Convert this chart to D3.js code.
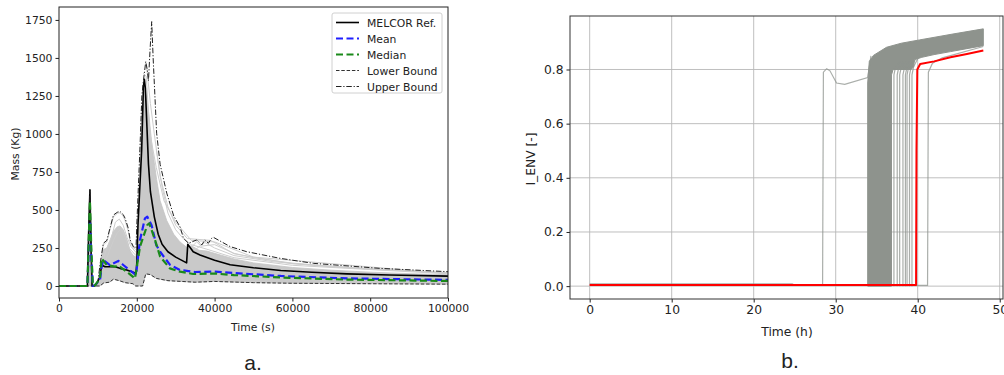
<!DOCTYPE html>
<html>
<head>
<meta charset="utf-8">
<script src="https://cdn.jsdelivr.net/npm/d3@7"></script>
<style>
  body { margin: 0; background: #fff; }
  svg { display: block; }
  text { font-family: "DejaVu Sans", sans-serif; fill: #222; }
</style>
</head>
<body>
<div id="chart"></div>
<script>
// ---------- panel a: mass vs time (s) ----------
const massTicks = [0, 250, 500, 750, 1000, 1250, 1500, 1750];
const timeTicksA = [0, 20000, 40000, 60000, 80000, 100000];

const melcorRef = [[0,0],[7300,0],[7600,330],[7950,632],[8200,300],[8500,0],[9200,0],[9800,20],[10540,61],[10970,138],[11830,127],[14400,127],[15680,116],[17400,105],[19800,83],[20000,150],[20300,400],[21250,895],[21700,1310],[21950,1360],[22200,1300],[22600,1050],[23000,800],[23500,620],[24500,455],[25500,340],[26500,275],[28000,225],[30000,190],[32800,152],[33100,275],[34500,225],[36250,204],[40000,170],[44000,140],[50000,120],[57000,102],[65000,90],[74000,80],[85000,72],[100000,65]];
const meanRun = [[0,0],[7300,0],[7650,250],[7950,460],[8300,200],[8700,0],[9250,6],[10540,40],[10970,127],[11400,171],[13100,138],[15250,165],[16530,138],[18680,94],[19800,72],[20820,303],[22100,445],[22700,456],[23800,400],[25000,270],[26000,225],[28500,140],[31100,105],[35000,92],[40000,95],[45000,85],[57000,66],[74000,50],[100000,40]];
const medianRun = [[0,0],[7300,0],[7650,300],[7950,560],[8300,250],[8700,0],[9300,5],[10540,50],[10970,182],[12260,138],[14400,127],[15250,135],[17400,94],[19540,50],[20820,259],[22700,401],[23200,412],[24680,303],[26000,193],[28500,116],[31100,94],[34500,79],[40000,82],[45000,72],[57000,56],[74000,42],[100000,33]];
const lowerBound = [[0,0],[10500,0],[11500,20],[13000,25],[14000,45],[15500,35],[17000,22],[19000,15],[19700,0],[21500,0],[22300,80],[23500,75],[25000,50],[28000,35],[35000,25],[40000,30],[50000,22],[60000,18],[80000,15],[100000,12]];
const upperBound = [[0,0],[7300,0],[7950,632],[8500,0],[9200,0],[10000,30],[10600,150],[11400,281],[12300,300],[13100,380],[14000,467],[15000,485],[15700,490],[16500,470],[17000,445],[17800,380],[18300,303],[19100,259],[19800,250],[20000,400],[20800,900],[21300,1250],[21700,1350],[22300,1476],[22700,1420],[23000,1350],[23400,1550],[23830,1739],[24200,1500],[25100,1005],[26000,800],[27700,611],[29500,460],[31100,390],[32000,314],[33300,281],[35400,303],[36700,270],[37500,303],[38400,281],[39250,314],[39700,320],[44000,259],[48200,226],[56800,182],[65400,149],[82500,116],[100000,94]];
// top edge of the dense grey ensemble
const ensembleTop = [[7300,0],[7900,600],[8400,0],[9200,0],[10000,20],[10600,130],[11400,240],[12300,250],[13100,300],[14000,360],[15000,390],[15700,395],[16500,370],[17000,340],[17800,280],[18300,230],[19100,200],[19800,190],[20200,350],[20800,850],[21300,1150],[21700,1250],[22200,1300],[23000,1150],[24000,900],[25100,700],[26000,560],[27700,430],[29500,340],[31100,290],[32800,255],[34000,265],[36000,235],[38000,230],[40000,215],[45000,178],[50000,152],[60000,122],[70000,104],[80000,91],[90000,81],[100000,74]];
// a few individual light runs above the dense band
const lightRuns = [
  [[33000,230],[35400,290],[36500,262],[40000,272],[45000,215],[50000,186],[60000,150],[80000,110],[100000,88]],
  [[34000,220],[37500,286],[40000,250],[45000,200],[55000,160],[70000,125],[100000,85]],
  [[25000,900],[26500,650],[28000,480],[30000,370],[32000,310],[34000,272],[38000,242],[45000,186],[60000,136],[100000,80]],
  [[22500,1450],[23500,1200],[24500,1000],[26000,720],[28000,520],[30000,400],[33000,312],[39000,300],[45000,212],[60000,146],[100000,84]],
  [[21600,1400],[22400,1380],[23400,1000],[25000,780],[27000,560],[30000,420],[34000,300],[40000,290],[50000,190],[100000,82]],
  [[10600,140],[11400,270],[12300,290],[13100,370],[14000,455],[15000,478],[15700,482],[16500,460],[17000,430],[17800,360],[18300,290],[19100,250],[19800,240]],
  [[10800,120],[12000,230],[13500,320],[14500,420],[15500,440],[16500,400],[17500,320],[18500,260],[19800,220]],
  [[11000,110],[12500,200],[14000,300],[15000,350],[16000,380],[17000,320],[18000,250],[19800,200]]
];

// ---------- panel b: I_ENV vs time (h) ----------
const ienvTicks = [0, 0.2, 0.4, 0.6, 0.8];
const timeTicksB = [0, 10, 20, 30, 40, 50];

const bundleOutline = [[33.9,0],[33.9,0.75],[34.1,0.83],[34.6,0.852],[36.2,0.882],[38,0.897],[40.2,0.909],[44.3,0.931],[48,0.95],[48,0.888],[46,0.877],[44,0.866],[42,0.855],[40.5,0.845],[39.6,0.836],[39.5,0.81],[39.2,0.80],[37,0.80],[36.8,0.78],[36.8,0]];
const sparseRuns = [
  [[37.1,0],[37.1,0.78],[37.3,0.81],[37.9,0.83]],
  [[37.5,0],[37.5,0.78],[37.7,0.81],[38.3,0.83]],
  [[37.8,0],[37.8,0.78],[38.0,0.81],[38.6,0.83]],
  [[38.2,0],[38.2,0.78],[38.4,0.81],[39.0,0.83]],
  [[38.5,0],[38.5,0.78],[38.7,0.81],[39.3,0.83]],
  [[38.7,0],[38.7,0.78],[38.9,0.81],[39.5,0.83]],
  [[39.0,0],[39.0,0.78],[39.2,0.81],[39.7,0.835]],
  [[39.3,0],[39.3,0.78],[39.5,0.81],[40.0,0.84]]
];
const earlyRun = [[0,0.003],[28.4,0.003],[28.5,0.79],[28.9,0.803],[29.3,0.795],[30.1,0.75],[31.1,0.745],[33.9,0.77],[34.3,0.85]];
const lateRun = [[25,0.003],[41.2,0.003],[41.3,0.79],[41.8,0.823],[43,0.843],[48,0.885]];
const flatRun = [[0,0.008],[24.7,0.008],[25,0.003],[34,0.003]];
const redRun = [[0,0.004],[39.8,0.004],[39.85,0.5],[39.95,0.80],[40.3,0.82],[42,0.83],[44,0.845],[46,0.857],[48,0.87]];

const W = 1004, H = 375;
const svg = d3.select('#chart').append('svg').attr('width', W).attr('height', H);
svg.append('rect').attr('width', W).attr('height', H).attr('fill', '#fff');

// ---------------- panel a ----------------
const xA = d3.scaleLinear().domain([0, 100000]).range([59, 448]);
const yA = d3.scaleLinear().domain([-79, 1835]).range([298, 7]);
const lineA = d3.line().x(d => xA(d[0])).y(d => yA(d[1]));

svg.append('clipPath').attr('id', 'clipA').append('rect')
  .attr('x', 59).attr('y', 7).attr('width', 389).attr('height', 291);
const gA = svg.append('g').attr('clip-path', 'url(#clipA)');

gA.append('path')
  .attr('d', lineA(ensembleTop.concat(lowerBound.slice().reverse())) + 'Z')
  .attr('fill', '#c9c9c9').attr('stroke', '#c4c4c4').attr('stroke-width', 0.8);
lightRuns.forEach(r => {
  gA.append('path').attr('d', lineA(r)).attr('fill', 'none')
    .attr('stroke', '#cdcdcd').attr('stroke-width', 1);
});

const seriesA = [
  { name: 'MELCOR Ref.', data: melcorRef, color: '#000', width: 1.6, dash: null },
  { name: 'Mean', data: meanRun, color: '#1f1fff', width: 2.2, dash: '7,3.5' },
  { name: 'Median', data: medianRun, color: '#1a8a1a', width: 2.2, dash: '7,3.5' },
  { name: 'Lower Bound', data: lowerBound, color: '#333', width: 1, dash: '3.5,1.8' },
  { name: 'Upper Bound', data: upperBound, color: '#222', width: 1, dash: '5.5,1.8,1.2,1.8' }
];
const drawOrder = [0, 3, 4, 1, 2];
drawOrder.forEach(i => {
  const s = seriesA[i];
  gA.append('path').attr('d', lineA(s.data)).attr('fill', 'none')
    .attr('stroke', s.color).attr('stroke-width', s.width)
    .attr('stroke-dasharray', s.dash)
    .attr('stroke-linejoin', 'round');
});

// axes a
const axA_x = svg.append('g').attr('transform', 'translate(0,298)')
  .call(d3.axisBottom(xA).tickValues(timeTicksA).tickFormat(d3.format('d')).tickSize(3.5).tickPadding(3));
const axA_y = svg.append('g').attr('transform', 'translate(59,0)')
  .call(d3.axisLeft(yA).tickValues(massTicks).tickFormat(d3.format('d')).tickSize(3.5).tickPadding(3));
[axA_x, axA_y].forEach(a => {
  a.select('.domain').remove();
  a.selectAll('text').style('font-size', '10.8px').attr('fill', '#222');
  a.selectAll('line').attr('stroke', '#222');
});
svg.append('rect').attr('x', 59).attr('y', 7).attr('width', 389).attr('height', 291)
  .attr('fill', 'none').attr('stroke', '#222').attr('stroke-width', 1);

svg.append('text').attr('x', 253).attr('y', 331).attr('text-anchor', 'middle')
  .style('font-size', '10.8px').text('Time (s)');
// the y label is partly cropped at the left in the reference
svg.append('clipPath').attr('id', 'clipLbl').append('rect')
  .attr('x', 11).attr('y', 0).attr('width', 40).attr('height', H);
svg.append('g').attr('clip-path', 'url(#clipLbl)')
  .append('text')
  .attr('transform', 'translate(19,154) rotate(-90)').attr('text-anchor', 'middle')
  .style('font-size', '10.8px').text('Mass (Kg)');

// legend a
const leg = svg.append('g');
leg.append('rect').attr('x', 332).attr('y', 13).attr('width', 110).attr('height', 80)
  .attr('rx', 2).attr('fill', '#fff').attr('fill-opacity', 0.85)
  .attr('stroke', '#d0d0d0').attr('stroke-width', 1);
seriesA.forEach((s, i) => {
  const yy = 22.5 + i * 16;
  leg.append('line').attr('x1', 336).attr('x2', 359).attr('y1', yy).attr('y2', yy)
    .attr('stroke', s.color).attr('stroke-width', s.width)
    .attr('stroke-dasharray', s.dash);
  leg.append('text').attr('x', 367).attr('y', yy + 4)
    .style('font-size', '10.8px').text(s.name);
});

svg.append('text').attr('x', 253).attr('y', 370).attr('text-anchor', 'middle')
  .style('font-family', '"Liberation Sans", Arial, sans-serif').style('font-size', '21px').text('a.');

// ---------------- panel b ----------------
const xB = d3.scaleLinear().domain([-2.4, 50.4]).range([570, 1003]);
const yB = d3.scaleLinear().domain([-0.0475, 0.9975]).range([299, 16]);
const lineB = d3.line().x(d => xB(d[0])).y(d => yB(d[1]));

// grid
const gridB = svg.append('g');
timeTicksB.forEach(t => {
  gridB.append('line').attr('x1', xB(t)).attr('x2', xB(t)).attr('y1', 16).attr('y2', 299)
    .attr('stroke', '#b8b8b8').attr('stroke-width', 0.9);
});
ienvTicks.forEach(v => {
  gridB.append('line').attr('x1', 570).attr('x2', 1003).attr('y1', yB(v)).attr('y2', yB(v))
    .attr('stroke', '#b8b8b8').attr('stroke-width', 0.9);
});

const grey = '#8e938d';
const gB = svg.append('g');
gB.append('path').attr('d', lineB(bundleOutline) + 'Z')
  .attr('fill', grey).attr('stroke', grey).attr('stroke-width', 1);
[flatRun, earlyRun, lateRun].concat(sparseRuns).forEach(r => {
  gB.append('path').attr('d', lineB(r)).attr('fill', 'none')
    .attr('stroke', grey).attr('stroke-opacity', 0.75).attr('stroke-width', 1.2);
});
gB.append('path').attr('d', lineB(redRun)).attr('fill', 'none')
  .attr('stroke', '#f00').attr('stroke-width', 2).attr('stroke-linejoin', 'round');

const axB_x = svg.append('g').attr('transform', 'translate(0,299)')
  .call(d3.axisBottom(xB).tickValues(timeTicksB).tickFormat(d3.format('d')).tickSize(3.5).tickPadding(3));
const axB_y = svg.append('g').attr('transform', 'translate(570,0)')
  .call(d3.axisLeft(yB).tickValues(ienvTicks).tickFormat(d3.format('.1f')).tickSize(3.5).tickPadding(3));
[axB_x, axB_y].forEach(a => {
  a.select('.domain').remove();
  a.selectAll('text').style('font-size', '12.3px').attr('fill', '#222');
  a.selectAll('line').attr('stroke', '#222');
});
svg.append('rect').attr('x', 570).attr('y', 16).attr('width', 433).attr('height', 283)
  .attr('fill', 'none').attr('stroke', '#333').attr('stroke-width', 1);

svg.append('text').attr('x', 787).attr('y', 336).attr('text-anchor', 'middle')
  .style('font-size', '12.3px').text('Time (h)');
svg.append('text').attr('transform', 'translate(535,159) rotate(-90)').attr('text-anchor', 'middle')
  .style('font-size', '12.3px').text('I_ENV [-]');

svg.append('text').attr('x', 790).attr('y', 368).attr('text-anchor', 'middle')
  .style('font-family', '"Liberation Sans", Arial, sans-serif').style('font-size', '21px').text('b.');
</script>
</body>
</html>
